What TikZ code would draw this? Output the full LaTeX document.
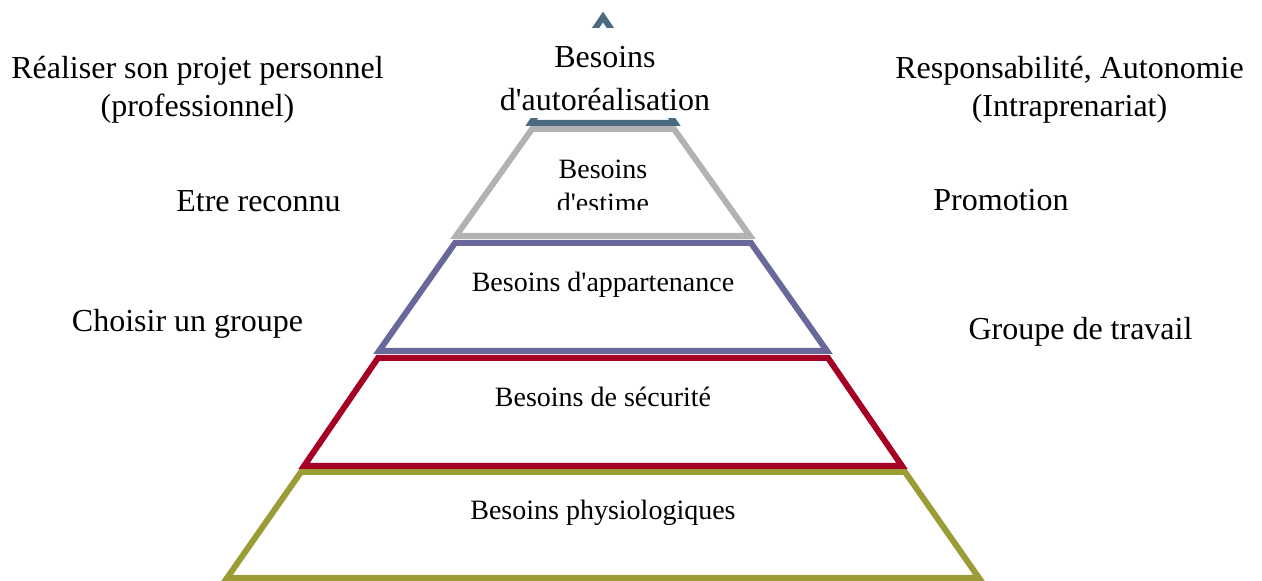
\documentclass[tikz,border=0pt]{standalone}
\usepackage{fontspec}
% plain family (no TeX ligature mapping) so that ' stays a straight apostrophe
\newfontfamily\lblfont{Liberation Serif}
\definecolor{selfcol}{HTML}{4A6A82}
\definecolor{esteemcol}{HTML}{B2B2B2}
\definecolor{belongcol}{HTML}{68689A}
\definecolor{safetycol}{HTML}{A50024}
\definecolor{physcol}{HTML}{9C9C37}
\begin{document}
\begin{tikzpicture}[x=0.5pt,y=-0.5pt,
  tier/.style={line width=3pt,fill=white,line join=miter,draw=#1},
  side/.style={font=\lblfont\fontsize{16}{19}\selectfont,align=center,inner sep=0pt},
  inlabel/.style={font=\lblfont\fontsize{14}{17}\selectfont,align=center,inner sep=0pt}]
\useasboundingbox (0,0) rectangle (1262,581);

% pyramid tiers, from the base up
\draw[tier=physcol]    (301,472) -- (905,472) -- (979,578) -- (227,578) -- cycle;
\draw[tier=safetycol]  (378,358) -- (828,358) -- (902,466) -- (304,466) -- cycle;
\draw[tier=belongcol]  (455,243) -- (751,243) -- (827,351) -- (379,351) -- cycle;
\draw[tier=esteemcol]  (532,129) -- (674,129) -- (750,236) -- (456,236) -- cycle;
\draw[tier=selfcol]    (603,17) -- (675,123) -- (531,123) -- cycle;

% top label, on a white patch over the apex
\node[font=\lblfont\fontsize{16}{21.5}\selectfont,align=center,inner ysep=0pt,
      inner xsep=2pt,fill=white,anchor=north] (self) at (605,28)
  {\rule{0pt}{19.5pt}Besoins\\d'autoréalisation\rule[-4pt]{0pt}{4pt}};

% tier labels
\begin{scope}
  \clip (470,125) rectangle (740,210);
  \node[inlabel,anchor=base] (esteem) at (603,213) {Besoins\\d'estime};
\end{scope}
\node[inlabel,anchor=base] (belong) at (603,292) {Besoins d'appartenance};
\node[inlabel,anchor=base] (safety) at (603,407) {Besoins de sécurité};
\node[inlabel,anchor=base] (phys)   at (603,520) {Besoins physiologiques};

% left column
\node[side,anchor=base] (l1) at (197.5,117) {Réaliser son projet personnel\\(professionnel)};
\node[side,anchor=base] (l2) at (258.5,212) {Etre reconnu};
\node[side,anchor=base] (l3) at (187.5,332) {Choisir un groupe};

% right column
\node[side,anchor=base] (r1) at (1069.5,117) {Responsabilité, Autonomie\\(Intraprenariat)};
\node[side,anchor=base] (r2) at (1001,211) {Promotion};
\node[side,anchor=base] (r3) at (1080.5,340) {Groupe de travail};
\end{tikzpicture}
\end{document}
